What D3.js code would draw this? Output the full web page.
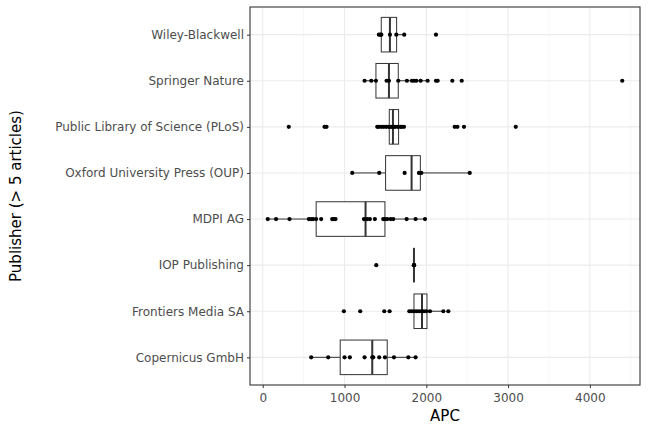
<!DOCTYPE html>
<html><head><meta charset="utf-8">
<script src="https://cdn.jsdelivr.net/npm/d3@7"></script>
<style>body{margin:0;background:#fff}text{font-family:"DejaVu Sans",Verdana,sans-serif}</style>
</head><body>
<script>
// Publishers, top to bottom
const publishers = ["Wiley-Blackwell", "Springer Nature", "Public Library of Science (PLoS)",
  "Oxford University Press (OUP)", "MDPI AG", "IOP Publishing", "Frontiers Media SA", "Copernicus GmbH"];
// Box statistics: [whisker low, q1, median, q3, whisker high]
const boxStats = [
  [1420, 1449, 1555, 1637, 1730],
  [1245, 1384, 1543, 1657, 2016],
  [1400, 1547, 1592, 1661, 1727],
  [1094, 1502, 1820, 1927, 2531],
  [61, 653, 1257, 1494, 1984],
  [1849, 1849, 1849, 1849, 1849],
  [1792, 1849, 1947, 2008, 2208],
  [592, 947, 1339, 1522, 1869]
];
// APC of individual articles
const apcPoints = [
  [1420, 1440, 1450, 1555, 1633, 1730, 2118],
  [1245, 1327, 1384, 1514, 1543, 1657, 1763, 1824, 1849, 1878, 1931, 2016, 2118, 2139, 2318, 2433, 4396],
  [318, 755, 780, 1400, 1420, 1450, 1480, 1510, 1540, 1560, 1580, 1600, 1620, 1650, 1680, 1700, 1727, 2347, 2380, 2461, 3094],
  [1094, 1424, 1735, 1910, 1939, 2531],
  [61, 163, 327, 563, 592, 616, 653, 714, 849, 869, 890, 1237, 1278, 1310, 1371, 1473, 1494, 1522, 1563, 1596, 1759, 1869, 1984],
  [1388, 1849, 1849, 1849],
  [992, 1192, 1486, 1551, 1792, 1820, 1850, 1880, 1910, 1940, 1970, 2000, 2045, 2208, 2269],
  [592, 800, 1000, 1065, 1245, 1339, 1351, 1424, 1494, 1604, 1780, 1869]
];
const xTicks = [0, 1000, 2000, 3000, 4000];

const W = 648, H = 432;
const m = {left: 250, right: 8, top: 7, bottom: 47};
const svg = d3.select("body").append("svg").attr("width", W).attr("height", H);

const x = d3.scaleLinear().domain([-156, 4613]).range([m.left, W - m.right]);
const y = d3.scalePoint().domain(publishers).range([m.top, H - m.bottom]).padding(0.6);
const boxH = y.step() * 0.75;

// Grid
const minor = d3.range(-500, 4600, 1000).filter(v => v > -156);
svg.append("g").selectAll("line").data(minor).join("line")
  .attr("x1", d => x(d)).attr("x2", d => x(d))
  .attr("y1", m.top).attr("y2", H - m.bottom)
  .attr("stroke", "#f2f2f2").attr("stroke-width", 0.6);
svg.append("g").selectAll("line").data(xTicks).join("line")
  .attr("x1", d => x(d)).attr("x2", d => x(d))
  .attr("y1", m.top).attr("y2", H - m.bottom)
  .attr("stroke", "#ebebeb").attr("stroke-width", 1.1);
svg.append("g").selectAll("line").data(publishers).join("line")
  .attr("x1", m.left).attr("x2", W - m.right)
  .attr("y1", d => y(d)).attr("y2", d => y(d))
  .attr("stroke", "#ebebeb").attr("stroke-width", 1.1);

// Boxplots
publishers.forEach((p, i) => {
  const [lo, q1, med, q3, hi] = boxStats[i];
  const cy = y(p);
  const g = svg.append("g").attr("stroke", "#333").attr("fill", "none");
  g.append("line").attr("x1", x(lo)).attr("x2", x(q1)).attr("y1", cy).attr("y2", cy);
  g.append("line").attr("x1", x(q3)).attr("x2", x(hi)).attr("y1", cy).attr("y2", cy);
  g.append("rect").attr("x", x(q1)).attr("y", cy - boxH / 2)
    .attr("width", x(q3) - x(q1)).attr("height", boxH).attr("fill", "#fff");
  g.append("line").attr("x1", x(med)).attr("x2", x(med))
    .attr("y1", cy - boxH / 2).attr("y2", cy + boxH / 2).attr("stroke-width", 2);
  svg.append("g").selectAll("circle").data(apcPoints[i]).join("circle")
    .attr("cx", d => x(d)).attr("cy", cy).attr("r", 2.1).attr("fill", "#000");
});

// Panel border
svg.append("rect").attr("x", m.left).attr("y", m.top)
  .attr("width", W - m.left - m.right).attr("height", H - m.top - m.bottom)
  .attr("fill", "none").attr("stroke", "#333").attr("stroke-width", 1.1);

// Axes
const xa = svg.append("g").attr("transform", `translate(0,${H - m.bottom})`)
  .call(d3.axisBottom(x).tickValues(xTicks).tickSize(3).tickFormat(d3.format("d")));
const ya = svg.append("g").attr("transform", `translate(${m.left},0)`)
  .call(d3.axisLeft(y).tickSize(3));
[xa, ya].forEach(a => {
  a.select(".domain").remove();
  a.selectAll(".tick line").attr("stroke", "#333");
  a.selectAll(".tick text").attr("fill", "#4d4d4d").attr("font-size", 12)
    .attr("font-family", "DejaVu Sans");
});
xa.selectAll(".tick text").attr("dy", "0.9em");

svg.append("text").attr("x", x.range()[0] + (x.range()[1] - x.range()[0]) / 2).attr("y", 421)
  .attr("text-anchor", "middle").attr("font-size", 15).text("APC");
svg.append("text").attr("transform", `translate(21,${(m.top + H - m.bottom) / 2}) rotate(-90)`)
  .attr("text-anchor", "middle").attr("font-size", 15).text("Publisher (> 5 articles)");
</script>
</body></html>
